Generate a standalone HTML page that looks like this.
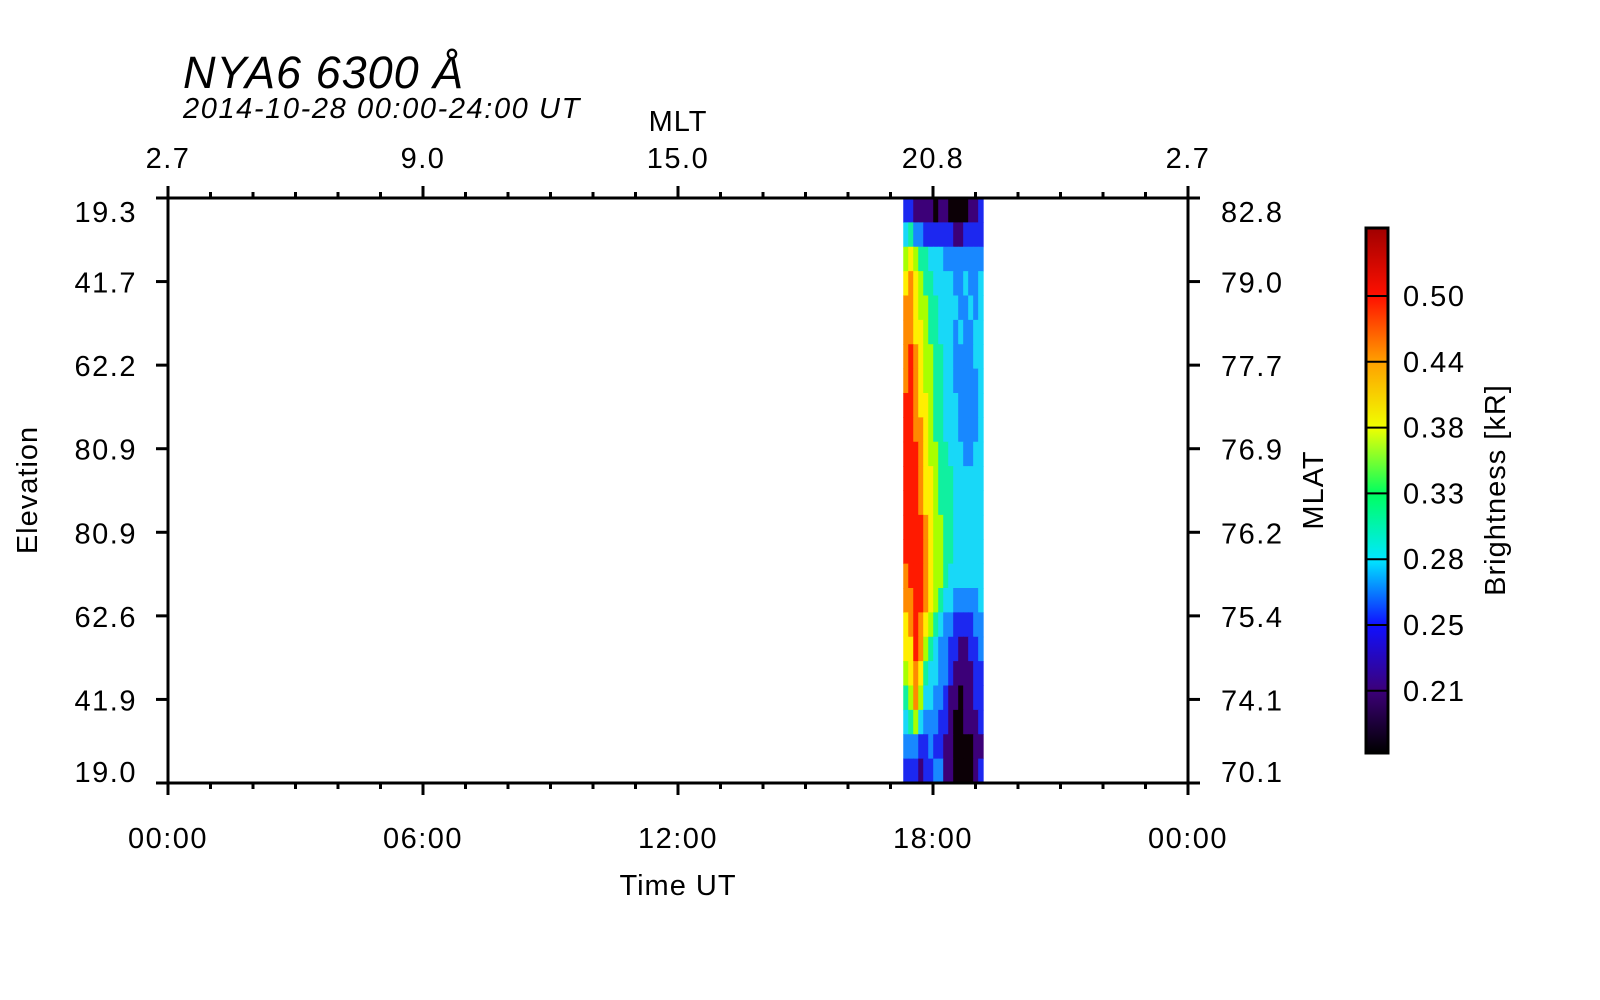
<!DOCTYPE html>
<html><head><meta charset="utf-8"><style>
html,body{margin:0;padding:0;background:#fff;width:1600px;height:1000px;overflow:hidden}
svg{display:block;font-family:"Liberation Sans",sans-serif}
</style></head><body>
<svg id="chart" width="1600" height="1000" viewBox="0 0 1600 1000">
<text x="183" y="88" font-size="45" font-style="italic" letter-spacing="1">NYA6 6300 Å</text>
<text x="183" y="118" font-size="29" font-style="italic" letter-spacing="1.6">2014-10-28 00:00-24:00 UT</text>
<text x="678" y="131" font-size="29" letter-spacing="1" text-anchor="middle">MLT</text>
<text x="678" y="895" font-size="29" letter-spacing="1" text-anchor="middle">Time UT</text>
<text transform="translate(37,490) rotate(-90)" font-size="29" letter-spacing="1" text-anchor="middle">Elevation</text>
<text transform="translate(1323,490) rotate(-90)" font-size="29" letter-spacing="1" text-anchor="middle">MLAT</text>
<text transform="translate(1505,490) rotate(-90)" font-size="29" letter-spacing="1" text-anchor="middle">Brightness [kR]</text>
<g id="heat"></g>
<g id="axes"></g>
<g id="cbar"></g>
</svg>
<script>
const timeStartHr = 17.3;
const timeEndHr = 19.18;
const xTickLabels = ["00:00","06:00","12:00","18:00","00:00"];
const mltTickLabels = ["2.7","9.0","15.0","20.8","2.7"];
const elevLabels = ["19.3","41.7","62.2","80.9","80.9","62.6","41.9","19.0"];
const mlatLabels = ["82.8","79.0","77.7","76.9","76.2","75.4","74.1","70.1"];
const cbarLabels = ["0.50","0.44","0.38","0.33","0.28","0.25","0.21"];
const levelColors = ["#0c0006","#3c0078","#1c28f0","#1888ff","#18d8f8","#10f0a0","#a8ff00","#ffee00","#ff8a00","#ff1a00"];
const heatRows = [
"2211110110000112",
"4533222222112222",
"6765544433333333",
"7876554444334334",
"8876655444433434",
"8877655444343344",
"8987665544333344",
"8987665544333334",
"9987765544433334",
"9988765544433334",
"9998766554443344",
"9998776555444444",
"9998776555444444",
"9999876655444444",
"9999876655444444",
"8999876654444444",
"8899876544333334",
"7898765433222233",
"7798654332211223",
"6787544332111122",
"5686443321101122",
"4564333221001112",
"3332232211000011",
"2221223311000012"
];
const NS="http://www.w3.org/2000/svg";
const X0=168,X1=1188,Y0=198,Y1=783;
const xs=h=>X0+(X1-X0)*h/24;
function mk(tag,attrs,parent){const e=document.createElementNS(NS,tag);for(const k in attrs)e.setAttribute(k,attrs[k]);parent.appendChild(e);return e;}
const heat=document.getElementById('heat');
const nR=heatRows.length,nC=heatRows[0].length;
const hx0=xs(timeStartHr),hx1=xs(timeEndHr);
const cw=(hx1-hx0)/nC,rh=(Y1-Y0)/nR;
heatRows.forEach((row,r)=>{for(let c=0;c<nC;c++){
 const el=mk('rect',{x:hx0+c*cw,y:Y0+r*rh,width:cw+0.5,height:rh+0.5,fill:levelColors[+row[c]]},heat);
 
 
}});
const ax=document.getElementById('axes');
mk('rect',{x:X0,y:Y0,width:X1-X0,height:Y1-Y0,fill:'none',stroke:'#000','stroke-width':3},ax);
for(let h=0;h<=24;h++){
 const x=xs(h),maj=h%6===0;
 mk('line',{x1:x,x2:x,y1:Y0,y2:Y0-(maj?12:6),stroke:'#000','stroke-width':3},ax);
 mk('line',{x1:x,x2:x,y1:Y1,y2:Y1+(maj?12:6),stroke:'#000','stroke-width':3},ax);
}
const lab={'font-size':29,'letter-spacing':1.5};
xTickLabels.forEach((t,i)=>{
 const el=mk('text',Object.assign({x:xs(i*6),y:848,'text-anchor':'middle'},lab),ax);el.textContent=t;
 
 
});
mltTickLabels.forEach((t,i)=>{
 const el=mk('text',Object.assign({x:xs(i*6),y:168,'text-anchor':'middle'},lab),ax);el.textContent=t;
 
 
});
const n=elevLabels.length,step=(Y1-Y0)/(n-1);
elevLabels.forEach((t,i)=>{
 const y=Y0+i*step;
 mk('line',{x1:X0,x2:X0-12,y1:y,y2:y,stroke:'#000','stroke-width':3},ax);
 mk('line',{x1:X1,x2:X1+12,y1:y,y2:y,stroke:'#000','stroke-width':3},ax);
 const ly=i===0?y+24:(i===n-1?y-1:y+11);
 let el=mk('text',Object.assign({x:137,y:ly,'text-anchor':'end'},lab),ax);el.textContent=t;
 
 
 el=mk('text',Object.assign({x:1221,y:ly},lab),ax);el.textContent=mlatLabels[i];
 
 
});
const cb=document.getElementById('cbar');
const CX=1366,CW=22,CT=228,CB=753;
const g=mk('linearGradient',{id:'jet',gradientUnits:'userSpaceOnUse',x1:0,y1:CB,x2:0,y2:CT},mk('defs',{},cb));
const cstep=65.8;
const cstops=[[CB,'#000000'],[296+6*cstep,'#3c0078'],[296+5*cstep,'#1010ff'],[296+4*cstep,'#00e8ff'],[296+3*cstep,'#00ff60'],[296+2*cstep,'#f0ff00'],[296+1*cstep,'#ffa000'],[296,'#ff1000'],[CT,'#a00000']];
cstops.forEach(s=>mk('stop',{offset:(CB-s[0])/(CB-CT),'stop-color':s[1]},g));
mk('rect',{x:CX,y:CT,width:CW,height:CB-CT,fill:'url(#jet)',stroke:'#000','stroke-width':3},cb);
cbarLabels.forEach((t,i)=>{
 const y=296+i*cstep;
 mk('line',{x1:CX,x2:CX+CW,y1:y,y2:y,stroke:'#000','stroke-width':2},cb);
 const el=mk('text',Object.assign({x:1403,y:y+10},lab),cb);el.textContent=t;
 
 
});
</script>
</body></html>
